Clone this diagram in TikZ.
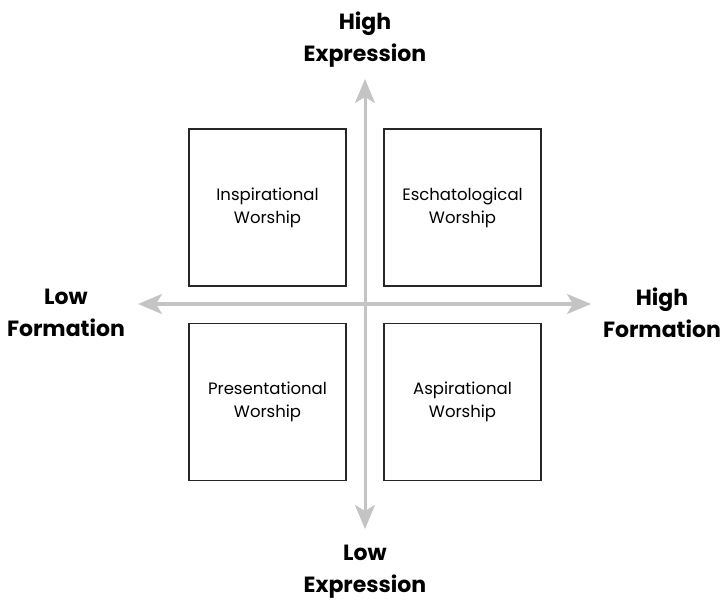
\documentclass[tikz,border=0pt]{standalone}
\usepackage{fontspec}
\setmainfont{Poppins}
\usepackage{xcolor}
\usetikzlibrary{arrows.meta, positioning}

\definecolor{axisgray}{HTML}{C4C4C4}

\begin{document}
\begin{tikzpicture}[
    x=1pt, y=-1pt,
    quad/.style={draw=black!85, line width=1.3pt, minimum width=157pt, minimum height=157pt,
                 inner sep=0pt, align=center, font=\fontsize{16.5}{23}\selectfont},
    axis/.style={line width=3pt, draw=axisgray,
                 {Stealth[length=24pt, width=20pt, inset=6pt, fill=axisgray]}-{Stealth[length=24pt, width=20pt, inset=6pt, fill=axisgray]}},
    axlab/.style={font=\fontsize{22}{32}\selectfont\bfseries, align=center, inner sep=0pt}
]
\useasboundingbox (0,0) rectangle (722,601);

% quadrants
\node[quad] (insp) at (267.5, 207.5) {Inspirational\\Worship};
\node[quad] (esch) at (462.5, 207.5) {Eschatological\\Worship};
\node[quad] (pres) at (267.5, 402)   {Presentational\\Worship};
\node[quad] (aspi) at (462.5, 402)   {Aspirational\\Worship};

% axis end points
\coordinate (top)    at (365, 79);
\coordinate (bottom) at (365, 529);
\coordinate (left)   at (138, 304);
\coordinate (right)  at (591, 304);

\draw[axis] (bottom) -- (top);
\draw[axis] (left) -- (right);

% axis labels
\node[axlab] (hiexp) at (365, 40)  {High\\Expression};
\node[axlab] (loexp) at (365, 572) {Low\\Expression};
\node[axlab] (lofor) at (66, 313)  {Low\\Formation};
\node[axlab] (hifor) at (662, 313) {High\\Formation};

\end{tikzpicture}
\end{document}
